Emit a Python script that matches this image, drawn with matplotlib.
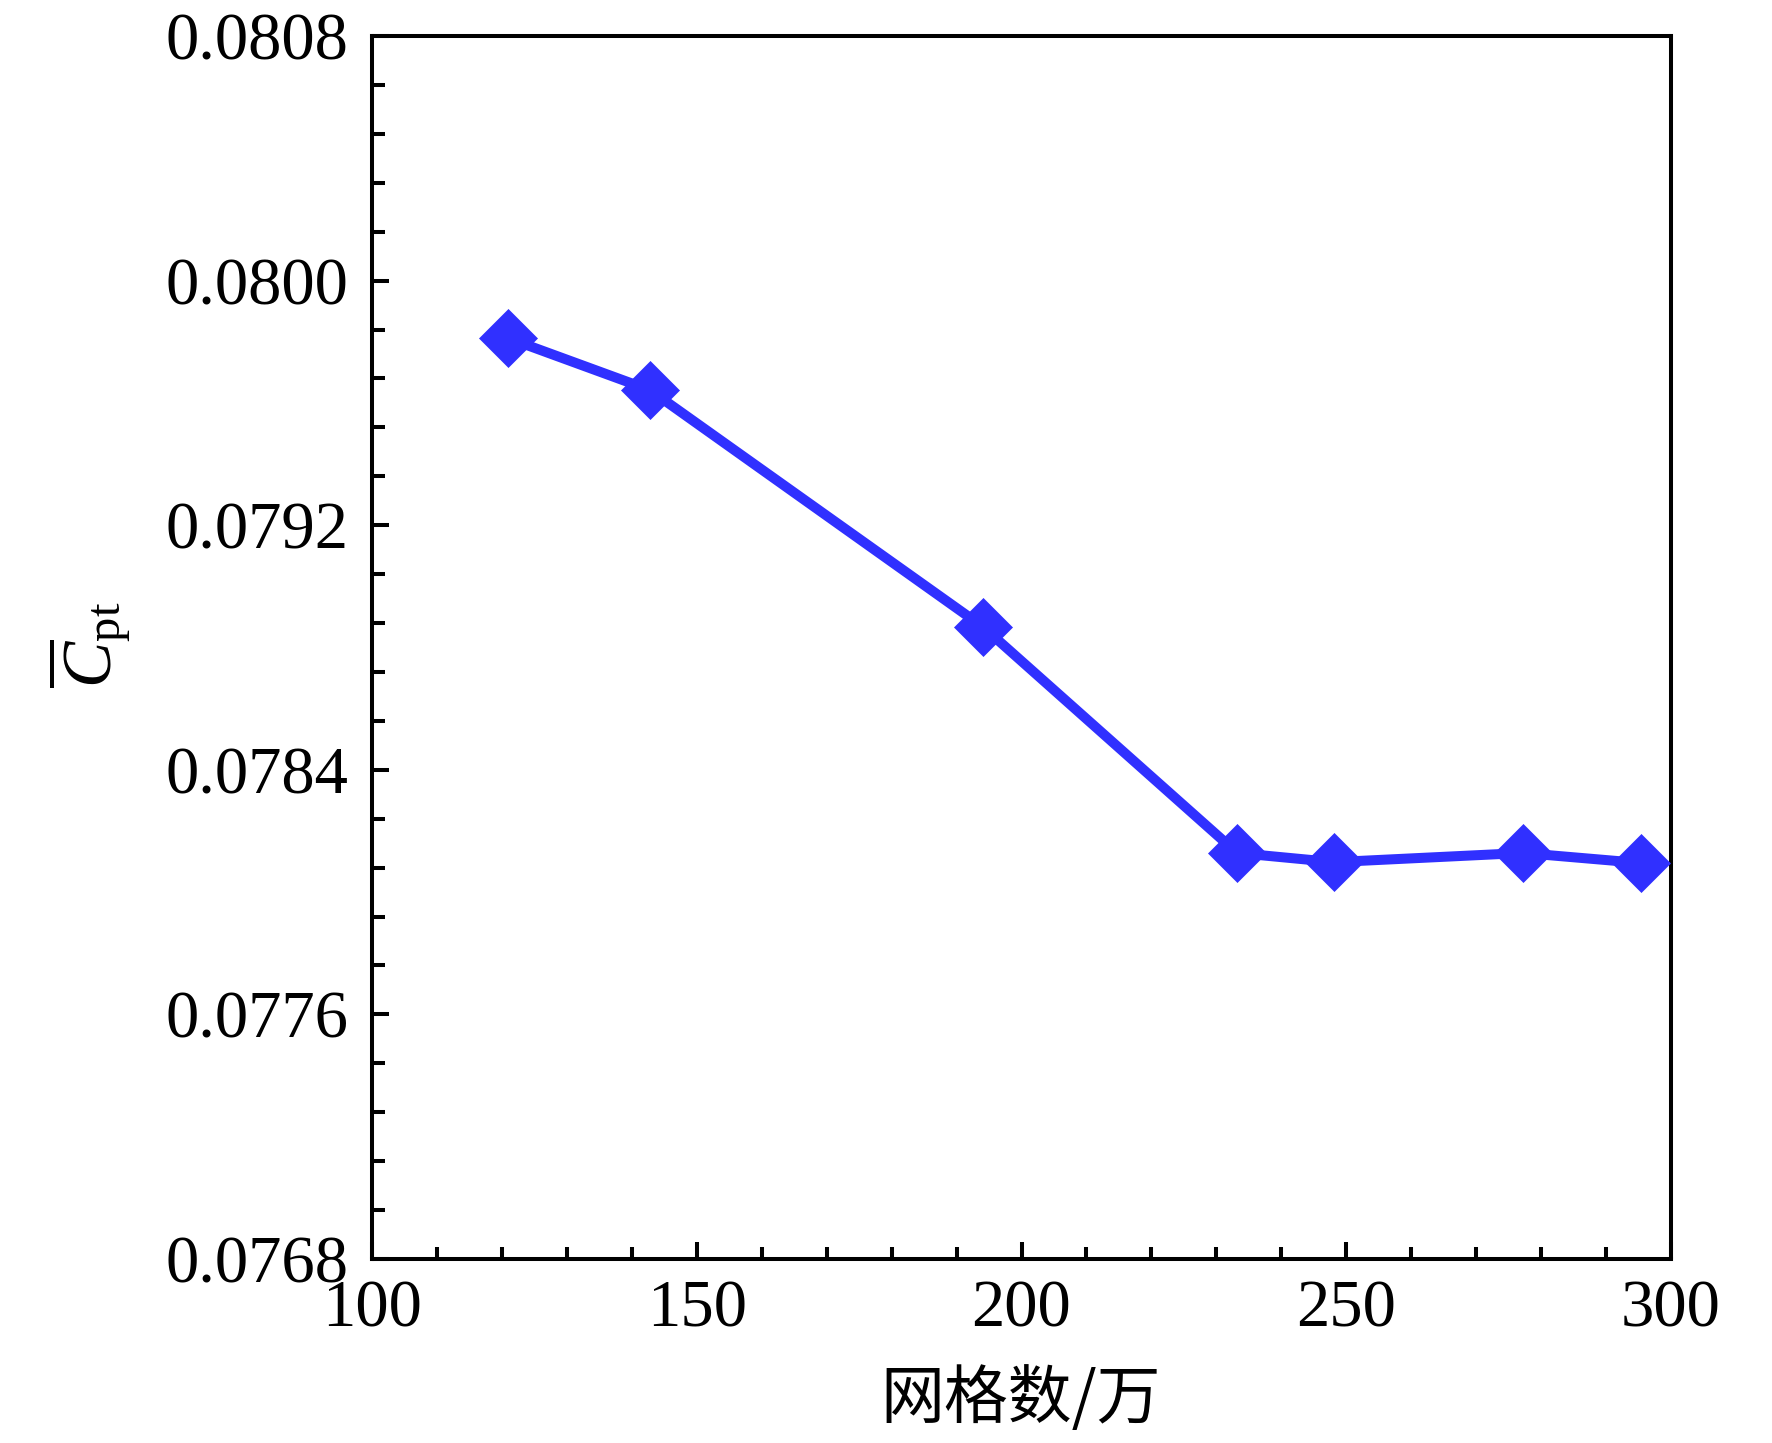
import matplotlib
matplotlib.use("Agg")
import matplotlib.pyplot as plt
from matplotlib.ticker import MultipleLocator, FixedLocator

# Data
grid_counts = [120.9, 142.8, 194.1, 233.2, 248.1, 277.2, 295.4]   # 万
cpt_values = [0.079812, 0.079642, 0.078867, 0.078128, 0.078098, 0.078128, 0.078095]

x_ticks = [100, 150, 200, 250, 300]
y_ticks = [0.0768, 0.0776, 0.0784, 0.0792, 0.0800, 0.0808]
y_tick_labels = ["0.0768", "0.0776", "0.0784", "0.0792", "0.0800", "0.0808"]

plt.rcParams['font.family'] = ['Liberation Serif', 'Noto Sans CJK SC', 'DejaVu Sans']
plt.rcParams['mathtext.fontset'] = 'custom'
plt.rcParams['mathtext.rm'] = 'Liberation Serif'
plt.rcParams['mathtext.it'] = 'Liberation Serif:italic'
plt.rcParams['mathtext.bf'] = 'Liberation Serif:bold'

W, H = 1772, 1443
fig = plt.figure(figsize=(W / 100, H / 100), dpi=100)
ax = fig.add_axes([372 / W, 1 - 1259 / H, (1671 - 372) / W, (1259 - 36) / H])

color = '#3030FF'
ax.plot(grid_counts, cpt_values, color=color, lw=7.2, marker='D', ms=30,
        mfc=color, mec=color, mew=0.5, solid_joinstyle='miter', zorder=3)

ax.set_xlim(100, 300)
ax.set_ylim(0.0768, 0.0808)
ax.xaxis.set_major_locator(FixedLocator(x_ticks))
ax.xaxis.set_minor_locator(MultipleLocator(10))
ax.yaxis.set_major_locator(FixedLocator(y_ticks))
ax.yaxis.set_minor_locator(MultipleLocator(0.00016))
ax.set_yticklabels(y_tick_labels)

for s in ax.spines.values():
    s.set_linewidth(2.9)
ax.tick_params(which='both', direction='in', width=2.9, labelsize=48, top=False, right=False)
ax.tick_params(which='major', length=12)
ax.tick_params(which='minor', length=9)
ax.tick_params(axis='x', which='major', pad=15)
ax.tick_params(axis='y', which='major', pad=17)

fig.text(1021 / W, 1 - 1400 / H, '网格数/万', fontsize=46,
         family=['Noto Sans CJK SC', 'DejaVu Sans'], ha='center', va='center')
fig.text(89 / W, 1 - 645 / H, r'$\overline{C}_{\mathrm{pt}}$', fontsize=50,
         rotation=90, ha='center', va='center')

fig.savefig('out.png', dpi=100)
